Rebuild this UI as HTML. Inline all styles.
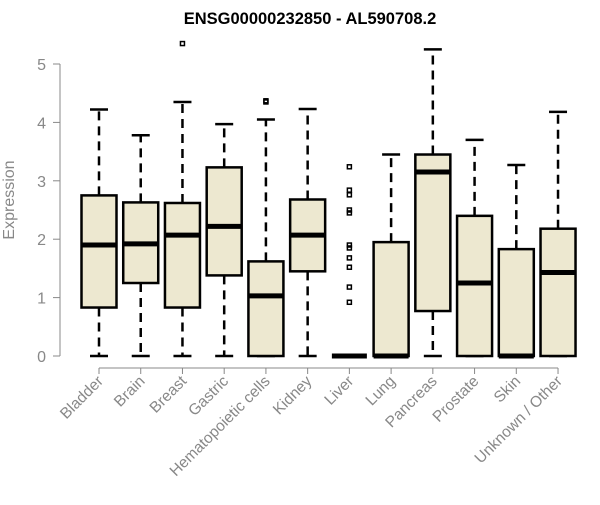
<!DOCTYPE html>
<html><head><meta charset="utf-8"><style>body{margin:0;background:#fff}svg{font-family:"Liberation Sans",Arial,sans-serif}</style></head>
<body>
<svg id="c" width="600" height="500"></svg>
<script>
const categories=["Bladder","Brain","Breast","Gastric","Hematopoietic cells","Kidney","Liver","Lung","Pancreas","Prostate","Skin","Unknown / Other"];
const whiskerLow=[0,0,0,0,0,0,0,0,0,0,0,0];
const q1=[0.83,1.25,0.83,1.38,0,1.45,0,0,0.77,0,0,0];
const medians=[1.9,1.92,2.07,2.22,1.03,2.07,0,0,3.15,1.25,0,1.43];
const q3=[2.75,2.63,2.62,3.23,1.62,2.68,0,1.95,3.45,2.4,1.83,2.18];
const whiskerHigh=[4.22,3.78,4.35,3.97,4.05,4.23,0,3.45,5.25,3.7,3.27,4.18];
const outliers=[[],[],[5.35],[],[4.35,4.37],[],[3.24,2.84,2.76,2.5,2.45,1.9,1.85,1.68,1.52,1.18,0.92],[],[],[],[],[]];
const yTicks=[0,1,2,3,4,5];
const NS="http://www.w3.org/2000/svg",svg=document.getElementById("c");
const y=v=>356-v*58.4, x=i=>99+i*41.73, bw=35;
function mk(t,a,p){const e=document.createElementNS(NS,t);for(const k in a)e.setAttribute(k,a[k]);(p||svg).appendChild(e);return e;}
let t=mk("text",{x:310,y:24,"text-anchor":"middle","font-size":"16.5","font-weight":"bold",fill:"#000"});t.textContent="ENSG00000232850 - AL590708.2";


let ya=mk("line",{x1:60,x2:60,y1:y(0),y2:y(5),stroke:"#888"});


yTicks.forEach(v=>{mk("line",{x1:53,x2:60,y1:y(v),y2:y(v),stroke:"#888"});
let l=mk("text",{x:46,y:y(v)+6,"text-anchor":"end","font-size":"16",fill:"#888"});l.textContent=v;

});
let yt=mk("text",{x:14,y:200,"text-anchor":"middle","font-size":"16",fill:"#888",transform:"rotate(-90 14 200)"});yt.textContent="Expression";


let xa=mk("line",{x1:x(0),x2:x(11),y1:368,y2:368,stroke:"#888"});


categories.forEach((c,i)=>{const cx=x(i);
mk("line",{x1:cx,x2:cx,y1:368,y2:374,stroke:"#888"});
let l=mk("text",{x:cx+5,y:382,"text-anchor":"end","font-size":"15.5",fill:"#888",transform:`rotate(-45 ${cx+5} 382)`});l.textContent=c;


const g=mk("g",{});


mk("line",{x1:cx,x2:cx,y1:y(q3[i]),y2:y(whiskerHigh[i]),stroke:"#000","stroke-width":2.5,"stroke-dasharray":"9,6"},g);
mk("line",{x1:cx,x2:cx,y1:y(q1[i]),y2:y(whiskerLow[i]),stroke:"#000","stroke-width":2.5,"stroke-dasharray":"9,6"},g);
mk("line",{x1:cx-9,x2:cx+9,y1:y(whiskerHigh[i]),y2:y(whiskerHigh[i]),stroke:"#000","stroke-width":2.5},g);
mk("line",{x1:cx-9,x2:cx+9,y1:y(whiskerLow[i]),y2:y(whiskerLow[i]),stroke:"#000","stroke-width":2.5},g);
mk("rect",{x:cx-bw/2,y:y(q3[i]),width:bw,height:Math.max(0,y(q1[i])-y(q3[i])),fill:"#ede8d0",stroke:"#000","stroke-width":2.5},g);
mk("line",{x1:cx-bw/2,x2:cx+bw/2,y1:y(medians[i]),y2:y(medians[i]),stroke:"#000","stroke-width":5},g);
outliers[i].forEach(o=>mk("rect",{x:cx-2,y:y(o)-2,width:4,height:4,fill:"none",stroke:"#000","stroke-width":1.5},g));
});
</script>
</body></html>
